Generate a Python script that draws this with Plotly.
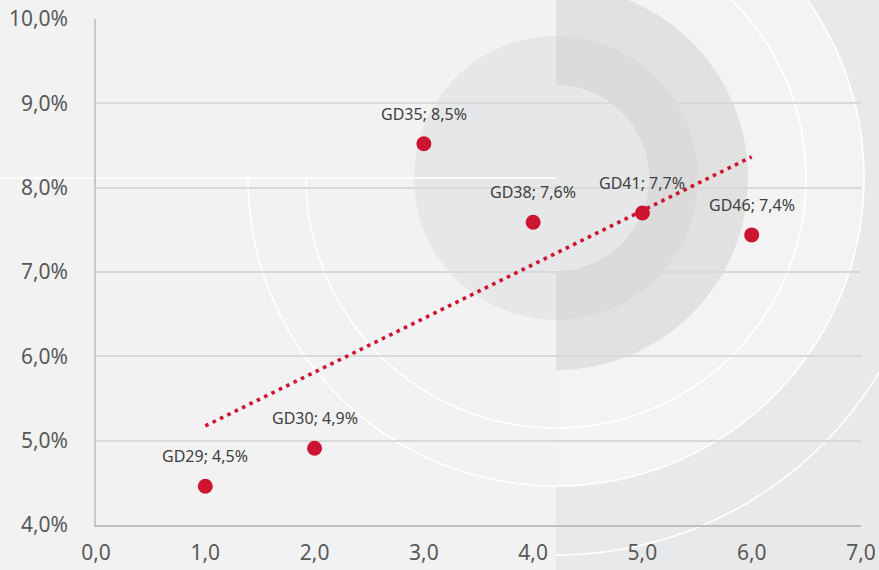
import numpy as np
import plotly.graph_objects as go

# ---------------- data ----------------
x_pos = [1, 2, 3, 4, 5, 6]
names = ["GD29", "GD30", "GD35", "GD38", "GD41", "GD46"]
values_pct = [4.46, 4.91, 8.52, 7.59, 7.70, 7.44]
x_ticks = [0, 1, 2, 3, 4, 5, 6, 7]
y_ticks = [0.04, 0.05, 0.06, 0.07, 0.08, 0.09, 0.10]

y_frac = [v / 100 for v in values_pct]
labels = [f"{n}; {v:.1f}%".replace(".", ",") for n, v in zip(names, values_pct)]

# linear trend line (least squares)
slope, intercept = np.polyfit(x_pos, y_frac, 1)
trend_x = [min(x_pos), max(x_pos)]
trend_y = [slope * t + intercept for t in trend_x]

# ---------------- layout geometry ----------------
W, H = 879, 570
ML, MR, MT, MB = 96, 18, 19, 45
PW, PH = W - ML - MR, H - MT - MB


def px2paper(px, py):
    return (px - ML) / PW, (H - MB - py) / PH


CX, CY = 556, 178  # centre of decorative circles (pixels)


def arc_pts(r, a0, a1, n=120):
    pts = []
    for a in np.linspace(a0, a1, n):
        t = np.radians(a)
        pts.append(px2paper(CX + r * np.cos(t), CY - r * np.sin(t)))
    return pts


def path_from(pts, close=False):
    s = "M " + " L ".join(f"{x:.5f},{y:.5f}" for x, y in pts)
    return s + (" Z" if close else "")


def half_disk_right(r):
    return path_from(arc_pts(r, 90, -90), close=True)


def half_disk_left(r):
    return path_from(arc_pts(r, 90, 270), close=True)


shapes = []
x0, y0 = px2paper(CX, H + 5)
x1, y1 = px2paper(W + 5, -5)
shapes.append(dict(type="rect", xref="paper", yref="paper", x0=x0, y0=y0, x1=x1, y1=y1,
                   fillcolor="#e8e9ea", line=dict(width=0), layer="below"))
shapes.append(dict(type="path", xref="paper", yref="paper", path=half_disk_right(308),
                   fillcolor="#f3f3f3", line=dict(width=0), layer="below"))
shapes.append(dict(type="path", xref="paper", yref="paper", path=half_disk_right(192),
                   fillcolor="#e1e1e2", line=dict(width=0), layer="below"))
shapes.append(dict(type="path", xref="paper", yref="paper", path=half_disk_left(142),
                   fillcolor="#e6e7e8", line=dict(width=0), layer="below"))
shapes.append(dict(type="path", xref="paper", yref="paper", path=half_disk_right(142),
                   fillcolor="#dbdbdc", line=dict(width=0), layer="below"))
shapes.append(dict(type="path", xref="paper", yref="paper", path=half_disk_right(93),
                   fillcolor="#e6e7e8", line=dict(width=0), layer="below"))
hx0, hy = px2paper(-5, CY)
hx1, _ = px2paper(CX, CY)
shapes.append(dict(type="line", xref="paper", yref="paper", x0=hx0, y0=hy, x1=hx1, y1=hy,
                   line=dict(color="white", width=1.6), layer="below"))
for r, a0, a1 in [(250, 90, -180), (308, 90, -180), (377, 90, -90)]:
    shapes.append(dict(type="path", xref="paper", yref="paper", path=path_from(arc_pts(r, a0, a1, 240)),
                       line=dict(color="white", width=1.6), layer="below"))

RED = "#cd1531"

fig = go.Figure()
fig.add_trace(go.Scatter(
    x=trend_x, y=trend_y, mode="lines",
    line=dict(color=RED, width=3.6, dash="3.6px,4.6px"),
    hoverinfo="skip", showlegend=False,
))
fig.add_trace(go.Scatter(
    x=x_pos, y=y_frac, mode="markers",
    marker=dict(color=RED, size=15, line=dict(width=0)),
    showlegend=False,
))

for xv, yv, lab in zip(x_pos, y_frac, labels):
    fig.add_annotation(x=xv, y=yv, text=lab, showarrow=False, yshift=30,
                       font=dict(family="Noto Sans", size=16, color="#404040"))

fig.update_layout(
    width=W, height=H,
    margin=dict(l=ML, r=MR, t=MT, b=MB, autoexpand=False),
    paper_bgcolor="#f2f2f2",
    plot_bgcolor="rgba(0,0,0,0)",
    separators=", ",
    font=dict(family="Noto Sans", color="#595959", size=21),
    shapes=shapes,
    showlegend=False,
)
fig.update_xaxes(
    range=[0, 7], tickvals=x_ticks, tickformat=".1f",
    showgrid=False, zeroline=False,
    showline=True, linecolor="#bfbfbf", linewidth=2,
    ticks="", ticklabelstandoff=8, automargin=False,
    tickfont=dict(size=21, color="#595959"),
)
fig.update_yaxes(
    range=[0.04, 0.10], tickvals=y_ticks, tickformat=".1%",
    showgrid=True, gridcolor="#d9d9d9", gridwidth=1.5, zeroline=False,
    showline=True, linecolor="#c8c8c8", linewidth=1.5,
    ticks="", ticklabelstandoff=22, automargin=False,
    tickfont=dict(size=21, color="#595959"),
)

fig.write_html(
    "out.html",
    config={"displayModeBar": False},
    post_script="document.body.style.margin='0px';document.body.style.background='#f2f2f2';",
)
